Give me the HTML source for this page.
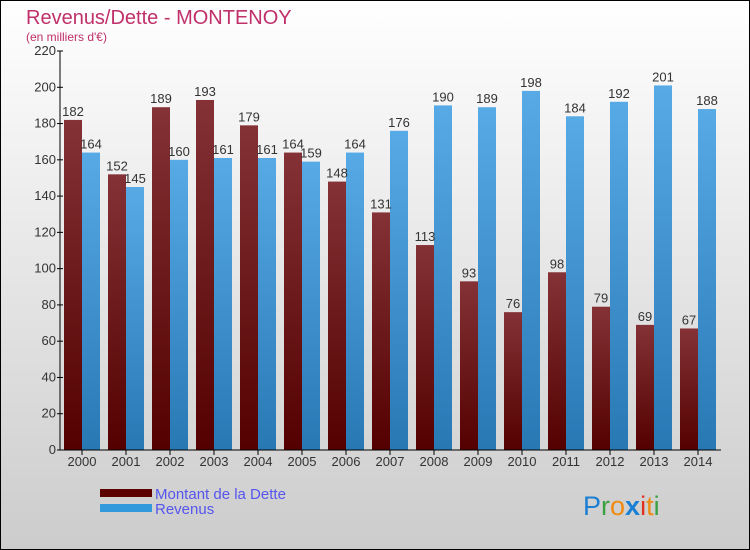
<!DOCTYPE html>
<html><head><meta charset="utf-8"><style>
html,body{margin:0;padding:0;width:750px;height:550px;overflow:hidden}
svg{display:block;font-family:"Liberation Sans","DejaVu Sans",sans-serif}
</style></head><body>
<svg id="chart" width="750" height="550" viewBox="0 0 750 550">
<defs>
<linearGradient id="bg" x1="0" y1="0" x2="0" y2="1"><stop offset="0" stop-color="#ffffff"/><stop offset="1" stop-color="#cccccc"/></linearGradient>
<linearGradient id="gd" x1="0" y1="0" x2="0" y2="1"><stop offset="0" stop-color="#843236"/><stop offset="1" stop-color="#540000"/></linearGradient>
<linearGradient id="gr" x1="0" y1="0" x2="0" y2="1"><stop offset="0" stop-color="#57aae6"/><stop offset="1" stop-color="#2878b4"/></linearGradient>
</defs>
<rect x="0.5" y="0.5" width="749" height="549" fill="url(#bg)" stroke="#000"/>
<text x="26" y="24" font-size="20" fill="#c0306a">Revenus/Dette - MONTENOY</text>
<text x="26" y="41" font-size="12" fill="#c0306a">(en milliers d'€)</text>
<g id="yaxis"></g>
<g id="bars"></g>
<g id="xaxis"></g>
<g>
<rect x="100" y="489" width="52" height="8" fill="#5c0000"/>
<text x="155" y="499" font-size="15" fill="#5555ee">Montant de la Dette</text>
<rect x="100" y="504" width="52" height="8" fill="#3399dd"/>
<text x="155" y="514" font-size="15" fill="#5555ee">Revenus</text>
</g>
<text x="583" y="515" font-size="27"><tspan fill="#1a7fd4">P</tspan><tspan fill="#3aa040">r</tspan><tspan fill="#f08a10">o</tspan><tspan fill="#1a7fd4" font-weight="bold">x</tspan><tspan fill="#e03020">i</tspan><tspan fill="#f08a10">t</tspan><tspan fill="#3aa040">i</tspan></text>
</svg>
<script>
const years=["2000","2001","2002","2003","2004","2005","2006","2007","2008","2009","2010","2011","2012","2013","2014"];
const dette=[182,152,189,193,179,164,148,131,113,93,76,98,79,69,67];
const revenus=[164,145,160,161,161,159,164,176,190,189,198,184,192,201,188];
const yTicks=[0,20,40,60,80,100,120,140,160,180,200,220];
const NS="http://www.w3.org/2000/svg";
const y0=450,yScale=(450-51)/220;
const yPos=v=>y0-v*yScale;
const xPos=i=>64+44*i;
function mk(t,a,p){const e=document.createElementNS(NS,t);for(const k in a)e.setAttribute(k,a[k]);p.appendChild(e);return e;}
const ya=document.getElementById('yaxis'),xa=document.getElementById('xaxis'),bg=document.getElementById('bars');
let l=mk('line',{x1:60,y1:51,x2:60,y2:450,stroke:'#000'},ya);


yTicks.forEach(v=>{
 const t=mk('line',{x1:57,x2:63,y1:yPos(v),y2:yPos(v),stroke:'#000'},ya);
 
 
 const tx=mk('text',{x:56,y:yPos(v)+4,'font-size':13,'text-anchor':'end',fill:'#333'},ya);
 tx.textContent=v;
 
 
});
years.forEach((yr,i)=>{
 const x=xPos(i);
 const d=mk('rect',{x:x,y:yPos(dette[i]),width:18,height:dette[i]*yScale,fill:'url(#gd)'},bg);
 
 
 const r=mk('rect',{x:x+18,y:yPos(revenus[i]),width:18,height:revenus[i]*yScale,fill:'url(#gr)'},bg);
 
 
 const dl=mk('text',{x:x+9,y:yPos(dette[i])-4,'font-size':13,'text-anchor':'middle',fill:'#333'},bg);
 dl.textContent=dette[i];
 
 
 const rl=mk('text',{x:x+27,y:yPos(revenus[i])-4,'font-size':13,'text-anchor':'middle',fill:'#333'},bg);
 rl.textContent=revenus[i];
 
 
 const tk=mk('line',{x1:x+18,x2:x+18,y1:450,y2:455,stroke:'#000'},xa);
 
 
 const xl=mk('text',{x:x+18,y:466,'font-size':13,'text-anchor':'middle',fill:'#333'},xa);
 xl.textContent=yr;
 
 
});
const xl2=mk('line',{x1:60,y1:450,x2:721,y2:450,stroke:'#000'},xa);


</script>
</body></html>
